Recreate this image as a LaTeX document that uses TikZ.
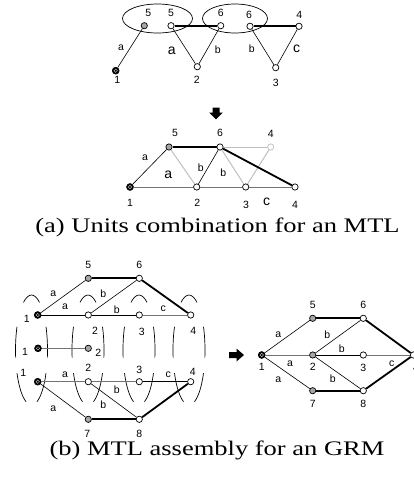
\documentclass[tikz,border=0pt]{standalone}
\usepackage{fontspec}
\setmainfont{Liberation Serif}
\setsansfont{Liberation Sans}
\tikzset{
  v/.style={circle, draw=black, fill=white, line width=0.7pt, minimum size=6.3pt, inner sep=0pt},
  vg/.style={v, fill=black!35},
  vl/.style={v, draw=black!25},
  root/.style={circle, draw=black, fill=black, minimum size=6.8pt, inner sep=0pt, line width=0.7pt,
    path picture={\draw[white!70!black, line width=0.5pt] (path picture bounding box.center) circle (1.7pt);}},
  lb/.style={font=\sffamily\fontsize{10.5}{10.5}\selectfont, inner sep=0pt},
  lbb/.style={font=\sffamily\fontsize{14}{14}\selectfont, inner sep=0pt},
  thinedge/.style={line width=0.6pt, draw=black},
  heavy/.style={line width=1.8pt, draw=black},
  grey/.style={line width=1pt, draw=black!55},
  light/.style={line width=1pt, draw=black!25},
  ell/.style={line width=0.7pt},
  captxt/.style={font=\fontsize{20.7}{24}\selectfont, inner sep=0pt, anchor=base, xscale=1.28, text height=14pt, text depth=4pt},
}
\newcommand\colellipse[1]{%
  \draw[ell] (#1,350) ++(240:16 and 55) arc[start angle=240, end angle=300, x radius=16, y radius=55];
  \draw[ell] (#1,350) ++(-25:16 and 55) arc[start angle=-25, end angle=8, x radius=16, y radius=55];
  \draw[ell] (#1,350) ++(172:16 and 55) arc[start angle=172, end angle=205, x radius=16, y radius=55];
  \draw[ell] (#1,350) ++(25:16 and 55) arc[start angle=25, end angle=70, x radius=16, y radius=55];
  \draw[ell] (#1,350) ++(110:16 and 55) arc[start angle=110, end angle=155, x radius=16, y radius=55];
}
\begin{document}
\begin{tikzpicture}[x=1pt, y=-1pt]
\useasboundingbox (0,0) rectangle (414,477);
\clip (0,0) rectangle (414,477);

% ---------- (a) top: units ----------
\draw[ell] (157.5,18.5) ellipse [x radius=35, y radius=14.5];
\draw[ell] (235,18.5) ellipse [x radius=32.5, y radius=14.5];
\node[root] (a1) at (115.7,70.7) {};
\node[vg] (a5g) at (144.3,25.7) {};
\node[v] (a5) at (171,25.7) {};
\node[v] (a6) at (220.7,25.7) {};
\node[v] (a6b) at (250,26.3) {};
\node[v] (a4) at (299,26.3) {};
\node[v] (a2) at (197.3,66.7) {};
\node[v] (a3) at (275.7,67.7) {};
\draw[thinedge] (a1) -- (a5g);
\draw[heavy] (a5) -- (a6);
\draw[thinedge] (a5) -- (a2);
\draw[thinedge] (a2) -- (a6);
\draw[heavy] (a6b) -- (a4);
\draw[thinedge] (a6b) -- (a3);
\draw[thinedge] (a3) -- (a4);
\node[lb] (la5g) at (148.3,13.3) {5};
\node[lb] (la5) at (171,13.3) {5};
\node[lb] (la6) at (220.7,13.3) {6};
\node[lb] (la6b) at (249,15) {6};
\node[lb] (la4) at (299.3,15) {4};
\node[lb] (laa1) at (121,47.7) {a};
\node[lbb] (laa2) at (171.7,50.7) {a};
\node[lb] (lab1) at (217.7,50) {b};
\node[lb] (lab2) at (251.7,48.3) {b};
\node[lbb] (lac) at (296.7,48.3) {c};
\node[lb] (la1) at (117.3,80) {1};
\node[lb] (la2) at (196.7,80) {2};
\node[lb] (la3) at (275.7,82.7) {3};

% down arrow
\fill (212.5,107.5) -- (219.5,107.5) -- (219.5,112.5) -- (222.8,112.5) -- (216,119.3) -- (209.2,112.5) -- (212.5,112.5) -- cycle;

% ---------- (a) middle: combined ----------
\node[root] (m1) at (130,187) {};
\node[vg] (m5) at (169,147) {};
\node[v] (m6) at (220,147) {};
\node[vl] (m4t) at (270.7,147) {};
\node[v] (m2) at (196.7,187) {};
\node[v] (m3) at (245.7,187) {};
\node[v] (m4) at (295,187) {};
\draw[light] (m6) -- (m4t);
\draw[light] (m5) -- (m2);
\draw[light] (m6) -- (m3);
\draw[light] (m3) -- (m4t);
\draw[grey] (m1) -- (m2);
\draw[grey] (m2) -- (m3);
\draw[grey] (m3) -- (m4);
\draw[thinedge] (m1) -- (m5);
\draw[heavy] (m5) -- (m6);
\draw[thinedge] (m2) -- (m6);
\draw[heavy] (m6) -- (m4);
\node[lb] (lm5) at (175,133.3) {5};
\node[lb] (lm6) at (220,133.3) {6};
\node[lb] (lm4t) at (270.7,134.3) {4};
\node[lb] (lma1) at (145,157.3) {a};
\node[lbb] (lma2) at (168.3,175) {a};
\node[lb] (lmb1) at (200.7,167.7) {b};
\node[lb] (lmb2) at (223.3,172.3) {b};
\node[lb] (lm1) at (130,203.3) {1};
\node[lb] (lm2) at (197.3,203.3) {2};
\node[lb] (lm3) at (246,205) {3};
\node[lbb] (lmc) at (266.7,201.7) {c};
\node[lb] (lm4) at (295,205) {4};

\node[captxt] (capa) at (217.5,232) {(a) Units combination for an MTL};

% ---------- (b) left: MTLs ----------
\colellipse{31.5}
\colellipse{88}
\colellipse{139}
\colellipse{189}
% row 1
\node[root] (b1) at (37.7,315) {};
\node[v] (b2) at (88.3,315) {};
\node[v] (b3) at (139.3,315) {};
\node[v] (b4) at (190.7,315) {};
\node[vg] (b5) at (88.3,278.3) {};
\node[v] (b6) at (139.3,278.3) {};
\draw[thinedge] (b1) -- (b5);
\draw[heavy] (b5) -- (b6);
\draw[thinedge] (b6) -- (b2);
\draw[heavy] (b6) -- (b4);
\draw[thinedge] (b1) -- (b2);
\draw[thinedge] (b2) -- (b3);
\draw[grey] (b3) -- (b4);
\node[lb] (lb5) at (88.3,265) {5};
\node[lb] (lb6) at (139.3,265) {6};
\node[lb] (lba1) at (53.3,294) {a};
\node[lb] (lbb1) at (103.3,293.3) {b};
\node[lb] (lba2) at (65,306.7) {a};
\node[lb] (lbb2) at (116.7,309.3) {b};
\node[lb] (lbc) at (163.3,308.3) {c};
\node[lb] (lb1) at (26.7,319) {1};
\node[lb] (lb2) at (95,330.5) {2};
\node[lb] (lb3) at (141.7,331.5) {3};
\node[lb] (lb4) at (193.3,331) {4};
% row 2
\node[root] (c1) at (38,348.3) {};
\node[vg] (c2) at (88.3,348.3) {};
\draw[grey] (c1) -- (c2);
\node[lb] (lc1) at (25,352.3) {1};
\node[lb] (lc2) at (98.3,353.3) {2};
% row 3
\node[root] (d1) at (37.7,381.7) {};
\node[v] (d2) at (88.3,381.7) {};
\node[v] (d3) at (139.3,381.7) {};
\node[v] (d4) at (190.7,381.7) {};
\node[vg] (d7) at (88.3,419.3) {};
\node[v] (d8) at (139.3,419.3) {};
\draw[grey] (d1) -- (d2);
\draw[grey] (d2) -- (d3);
\draw[thinedge] (d3) -- (d4);
\draw[thinedge] (d1) -- (d7);
\draw[thinedge] (d2) -- (d8);
\draw[heavy] (d7) -- (d8);
\draw[heavy] (d8) -- (d4);
\node[lb] (ld1) at (23.3,373.3) {1};
\node[lb] (ld2) at (88.3,368.3) {2};
\node[lb] (ld3) at (139.3,370) {3};
\node[lb] (ld4) at (192.7,371.7) {4};
\node[lb] (lda1) at (65,375) {a};
\node[lb] (ldb1) at (116.7,390) {b};
\node[lb] (ldc) at (168.3,375) {c};
\node[lb] (lda2) at (53.3,408.3) {a};
\node[lb] (ldb2) at (103.3,405) {b};
\node[lb] (ld7) at (87.3,434) {7};
\node[lb] (ld8) at (139.3,434) {8};

% right arrow
\fill (229,352) -- (236.5,352) -- (236.5,348.5) -- (244,355) -- (236.5,361.5) -- (236.5,358) -- (229,358) -- cycle;

% ---------- (b) right: GRM ----------
\node[root] (r1) at (261.7,355) {};
\node[vg] (r5) at (312.7,318.3) {};
\node[v] (r6) at (363.3,318.3) {};
\node[vg] (r2) at (312.7,355) {};
\node[v] (r3) at (363.3,355) {};
\node[vg] (r7) at (312.7,390.7) {};
\node[v] (r8) at (363.3,390.7) {};
\node[v] (r4) at (413.5,355) {};
\draw[thinedge] (r1) -- (r5);
\draw[grey] (r1) -- (r2);
\draw[thinedge] (r1) -- (r7);
\draw[heavy] (r5) -- (r6);
\draw[thinedge] (r2) -- (r6);
\draw[thinedge] (r2) -- (r3);
\draw[thinedge] (r2) -- (r8);
\draw[heavy] (r7) -- (r8);
\draw[heavy] (r6) -- (r4);
\draw[grey] (r3) -- (r4);
\draw[heavy] (r8) -- (r4);
\node[lb] (lr5) at (312.7,305) {5};
\node[lb] (lr6) at (363.3,305) {6};
\node[lb] (lra1) at (278.3,335) {a};
\node[lb] (lrb1) at (327.3,335) {b};
\node[lb] (lrb2) at (341.7,348.3) {b};
\node[lb] (lra2) at (290,363.3) {a};
\node[lb] (lr1) at (261.7,366.7) {1};
\node[lb] (lr2) at (312.7,367.3) {2};
\node[lb] (lr3) at (363.3,368.3) {3};
\node[lb] (lrc) at (391.7,363.3) {c};
\node[lb] (lra3) at (278.3,380) {a};
\node[lb] (lrb3) at (332.7,378.3) {b};
\node[lb] (lr7) at (312.7,404) {7};
\node[lb] (lr8) at (363.3,404) {8};
\node[lb] (lr4) at (416,368) {4};

\node[captxt] (capb) at (217,455.5) {(b) MTL assembly for an GRM};
\end{tikzpicture}
\end{document}
